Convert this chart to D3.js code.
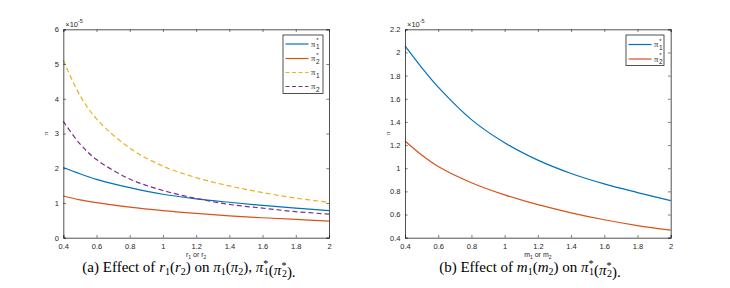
<!DOCTYPE html>
<html>
<head>
<meta charset="utf-8">
<script src="https://cdn.jsdelivr.net/npm/d3@7"></script>
<style>
  body { margin: 0; background: #fff; }
</style>
</head>
<body>
<svg id="chart" width="730" height="288" font-family="Liberation Sans, Arial, sans-serif"></svg>
<script>
// x values
const xs = [0.4, 0.5, 0.6, 0.8, 1.0, 1.2, 1.4, 1.6, 1.8, 2.0]

// panel (a): effect of r1 (r2), in units of 1e-5
const aPi1Star = [2.02, 1.84, 1.68, 1.44, 1.25, 1.12, 1.02, 0.93, 0.85, 0.78]
const aPi2Star = [1.20, 1.09, 1.01, 0.88, 0.78, 0.70, 0.63, 0.575, 0.525, 0.48]
const aPi1 = [5.10, 4.10, 3.42, 2.58, 2.06, 1.73, 1.49, 1.30, 1.14, 1.02]
const aPi2 = [3.35, 2.70, 2.25, 1.69, 1.36, 1.13, 0.96, 0.85, 0.75, 0.68]

// panel (b): effect of m1 (m2), in units of 1e-5
const bPi1Star = [2.056, 1.87, 1.70, 1.42, 1.22, 1.07, 0.955, 0.865, 0.79, 0.72]
const bPi2Star = [1.235, 1.115, 1.015, 0.875, 0.77, 0.685, 0.615, 0.555, 0.505, 0.465]

const xTicks = [0.4, 0.6, 0.8, 1, 1.2, 1.4, 1.6, 1.8, 2]
const aYTicks = [0, 1, 2, 3, 4, 5, 6]
const bYTicks = [0.4, 0.6, 0.8, 1, 1.2, 1.4, 1.6, 1.8, 2, 2.2]

const colors = { blue: '#0072BD', red: '#D95319', yellow: '#EDB120', purple: '#7E2F8E' }
const ink = '#262626'
const serif = '"Liberation Serif", "Times New Roman", serif'

const svg = d3.select('#chart')

const panels = [
    {
        left: 63.3, right: 329, top: 29.3, bottom: 237.7,
        yDomain: [0, 6], yTicks: aYTicks, xVar: 'r',
        series: [
            { values: aPi1Star, color: colors.blue, dash: null, sub: '1', star: true },
            { values: aPi2Star, color: colors.red, dash: null, sub: '2', star: true },
            { values: aPi1, color: colors.yellow, dash: '5,3', sub: '1', star: false },
            { values: aPi2, color: colors.purple, dash: '5,3', sub: '2', star: false }
        ],
        legend: { x: 283, y: 35, w: 40, rows: [44, 58.5, 72.5, 86.5] },
        caption: { cx: 189, tag: '(a)', v: 'r', starOnly: false }
    },
    {
        left: 405, right: 670.7, top: 29.3, bottom: 237.7,
        yDomain: [0.4, 2.2], yTicks: bYTicks, xVar: 'm',
        series: [
            { values: bPi1Star, color: colors.blue, dash: null, sub: '1', star: true },
            { values: bPi2Star, color: colors.red, dash: null, sub: '2', star: true }
        ],
        legend: { x: 626, y: 35, w: 38, rows: [44.5, 59] },
        caption: { cx: 530, tag: '(b)', v: 'm', starOnly: true }
    }
]

const fmt = d => String(+d.toFixed(1))

function piLabel(g, x, y, sub, star) {
    g.append('text').attr('x', x).attr('y', y).attr('font-size', 8.5)
        .attr('fill', ink).attr('font-family', serif).text('π')
    if (star) {
        g.append('text').attr('x', x + 5.2).attr('y', y - 4.5).attr('font-size', 6)
            .attr('fill', ink).text('*')
    }
    g.append('text').attr('x', x + 5).attr('y', y + 2.5).attr('font-size', 6.5)
        .attr('fill', ink).text(sub)
}

panels.forEach(p => {
    const x = d3.scaleLinear().domain([0.4, 2]).range([p.left, p.right])
    const y = d3.scaleLinear().domain(p.yDomain).range([p.bottom, p.top])
    const g = svg.append('g')

    // curves
    const line = d3.line().x((d, i) => x(xs[i])).y(d => y(d)).curve(d3.curveCatmullRom.alpha(0.5))
    p.series.forEach(s => {
        g.append('path').datum(s.values)
            .attr('d', line)
            .attr('fill', 'none')
            .attr('stroke', s.color)
            .attr('stroke-width', 1.2)
            .attr('stroke-dasharray', s.dash)
    })

    // axes, ticks pointing inward, box around
    const axB = d3.axisBottom(x).tickValues(xTicks).tickFormat(fmt).tickSize(-2.7).tickPadding(5.5)
    const axT = d3.axisTop(x).tickValues(xTicks).tickFormat('').tickSize(-2.7)
    const axL = d3.axisLeft(y).tickValues(p.yTicks).tickFormat(fmt).tickSize(-2.7).tickPadding(4.5)
    const axR = d3.axisRight(y).tickValues(p.yTicks).tickFormat('').tickSize(-2.7)

    const styleAxis = sel => {
        sel.attr('font-family', null)
        sel.selectAll('path.domain').attr('stroke', ink).attr('stroke-width', 0.8)
        sel.selectAll('.tick line').attr('stroke', ink).attr('stroke-width', 0.6)
        sel.selectAll('.tick text').attr('fill', ink).attr('font-size', 7.5)
    }
    g.append('g').attr('transform', `translate(0,${p.bottom})`).call(axB).call(styleAxis)
    g.append('g').attr('transform', `translate(0,${p.top})`).call(axT).call(styleAxis)
    g.append('g').attr('transform', `translate(${p.left},0)`).call(axL).call(styleAxis)
    g.append('g').attr('transform', `translate(${p.right},0)`).call(axR).call(styleAxis)

    // exponent
    const ex = g.append('text').attr('x', p.left + 2).attr('y', p.top - 2.5)
        .attr('font-size', 7.5).attr('fill', ink)
    ex.append('tspan').text('×10')
    ex.append('tspan').attr('dy', -3.5).attr('font-size', 5.5).text('-5')

    // y label
    g.append('text')
        .attr('transform', `translate(${p.left - 15},${(p.top + p.bottom) / 2}) rotate(-90)`)
        .attr('text-anchor', 'middle').attr('font-size', 7).attr('fill', ink)
        .attr('font-family', serif).text('π')

    // x label
    const xl = g.append('text').attr('x', (p.left + p.right) / 2).attr('y', 257)
        .attr('text-anchor', 'middle').attr('font-size', 7).attr('fill', ink)
    xl.append('tspan').text(p.xVar)
    xl.append('tspan').attr('dy', 1.5).attr('font-size', 5).text('1')
    xl.append('tspan').attr('dy', -1.5).text(' or ' + p.xVar)
    xl.append('tspan').attr('dy', 1.5).attr('font-size', 5).text('2')

    // legend
    const L = p.legend
    const lh = L.rows[L.rows.length - 1] - L.rows[0] + 16
    g.append('rect').attr('x', L.x).attr('y', L.y).attr('width', L.w).attr('height', lh)
        .attr('fill', '#fff').attr('stroke', ink).attr('stroke-width', 0.8)
    p.series.forEach((s, i) => {
        const ry = L.rows[i]
        g.append('line').attr('x1', L.x + 2.5).attr('x2', L.x + 25.5)
            .attr('y1', ry).attr('y2', ry)
            .attr('stroke', s.color).attr('stroke-width', 1.2)
            .attr('stroke-dasharray', s.dash ? '4,2.5' : null)
        piLabel(g, L.x + 28, ry + 2.5, s.sub, s.star)
    })

    // caption
    const c = p.caption
    const cap = svg.append('text').attr('x', c.cx).attr('y', 272)
        .attr('text-anchor', 'middle').attr('font-size', 15).attr('fill', '#000')
        .attr('font-family', serif)
    const it = t => cap.append('tspan').attr('font-style', 'italic').text(t)
    const sub = t => cap.append('tspan').attr('font-size', 10).attr('dy', 2.5).text(t)
    const up = t => cap.append('tspan').attr('dy', -2.5).text(t)
    const starSub = t => {
        cap.append('tspan').attr('font-size', 10).attr('dy', -5.5).text('*')
        cap.append('tspan').attr('font-size', 10).attr('dx', -4.5).attr('dy', 8).text(t)
        cap.append('tspan').attr('dy', -2.5).text('')
    }
    cap.append('tspan').text(c.tag + '  Effect of ')
    it(c.v); sub('1'); up('('); it(c.v); sub('2'); up(') on ')
    if (!c.starOnly) {
        it('π'); sub('1'); up('('); it('π'); sub('2'); up('), ')
    }
    it('π'); starSub('1'); cap.append('tspan').text('(')
    it('π'); starSub('2'); cap.append('tspan').text(').')
})
</script>
</body>
</html>
